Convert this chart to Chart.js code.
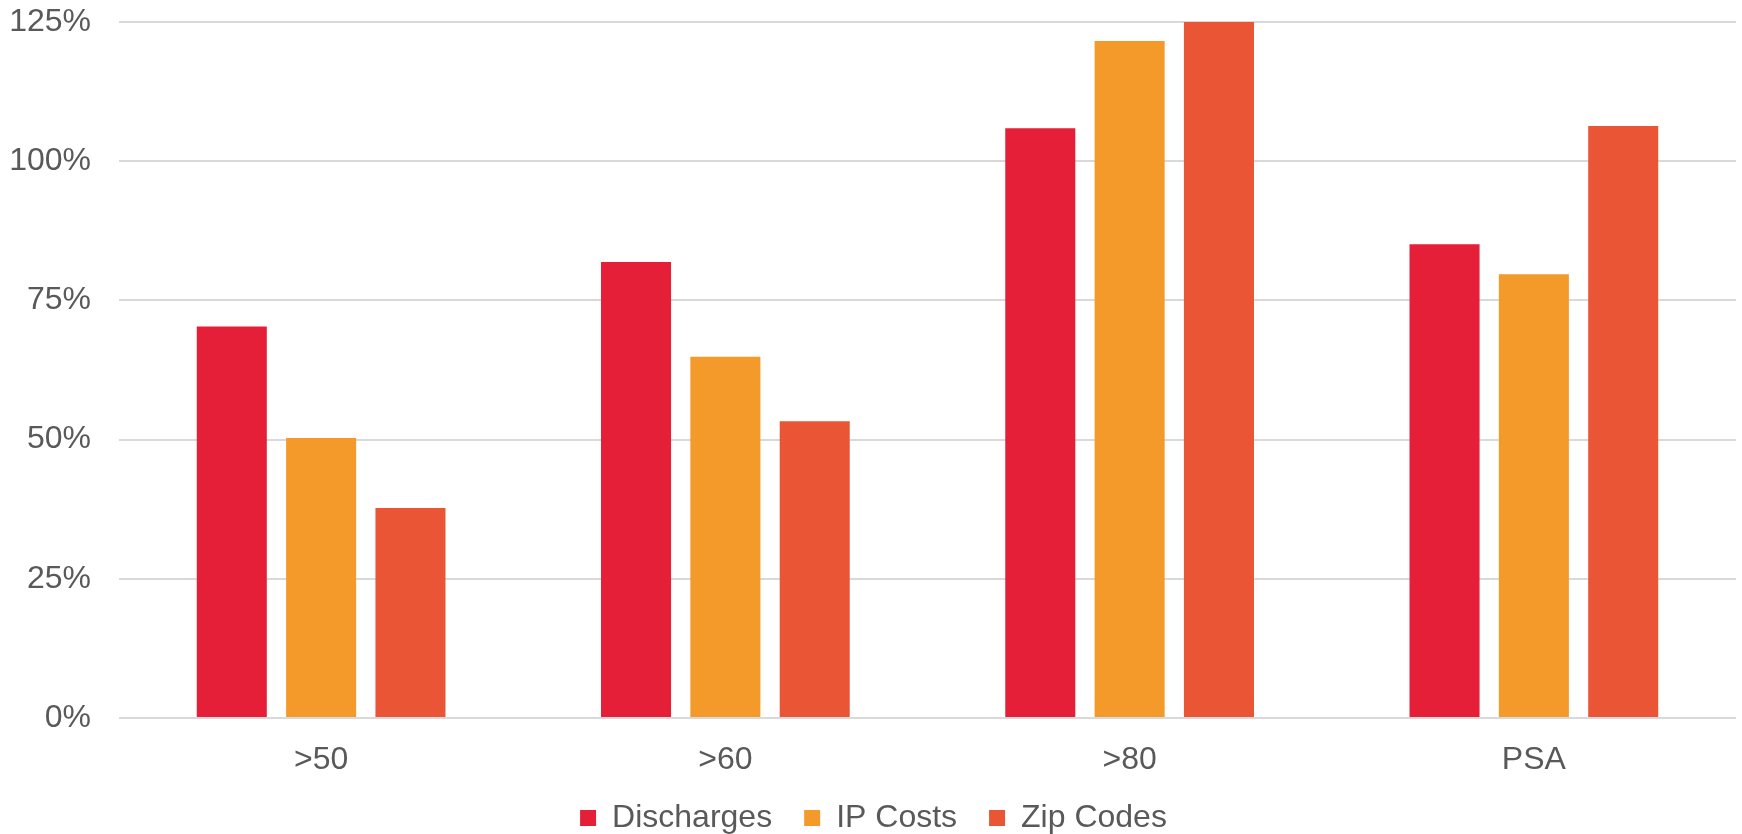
<!DOCTYPE html>
<html>
<head>
<meta charset="utf-8">
<script src="https://cdn.jsdelivr.net/npm/chart.js@4/dist/chart.umd.min.js"></script>
<style>
html,body{margin:0;padding:0;background:#fff;}
#wrap{width:1742px;height:834px;}
</style>
</head>
<body>
<div id="wrap"><canvas id="c" width="1742" height="834"></canvas></div>
<script>
const categories = ['>50', '>60', '>80', 'PSA'];
const discharges = [70.3, 81.9, 105.9, 85.1];
const ipCosts = [50.3, 64.9, 121.6, 79.7];
const zipCodes = [37.7, 53.3, 125, 106.3];
const yTicks = [0, 25, 50, 75, 100, 125];

const font = {family: '"Liberation Sans", Arial, sans-serif', size: 32, lineHeight: 1.0};
new Chart(document.getElementById('c'), {
  type: 'bar',
  data: {
    labels: categories,
    datasets: [
      {label: 'Discharges', data: discharges, backgroundColor: '#E51F37'},
      {label: 'IP Costs', data: ipCosts, backgroundColor: '#F49A2A'},
      {label: 'Zip Codes', data: zipCodes, backgroundColor: '#EA5535'}
    ]
  },
  options: {
    responsive: false,
    animation: false,
    categoryPercentage: 0.663,
    barPercentage: 0.784,
    layout: {padding: {left: 11, right: 6, top: 22, bottom: -10}},
    plugins: {
      tooltip: {enabled: false},
      legend: {
        position: 'bottom',
        labels: {font: font, color: '#595959', boxWidth: 16, boxHeight: 16, padding: 32}
      }
    },
    scales: {
      x: {
        grid: {display: false, drawTicks: false},
        border: {display: false},
        afterFit: (s) => { s.height -= 32; },
        ticks: {font: font, color: '#595959', padding: 26}
      },
      y: {
        min: 0, max: 125,
        afterBuildTicks: (axis) => { axis.ticks = yTicks.map(v => ({value: v})); },
        afterFit: (s) => { s.width = 108; s.paddingTop = 0; s.paddingBottom = 0; },
        grid: {color: '#D9D9D9', lineWidth: 2, drawTicks: false},
        border: {display: false},
        ticks: {font: font, color: '#595959', padding: 28, callback: v => v + '%'}
      }
    }
  }
});
</script>
</body>
</html>
